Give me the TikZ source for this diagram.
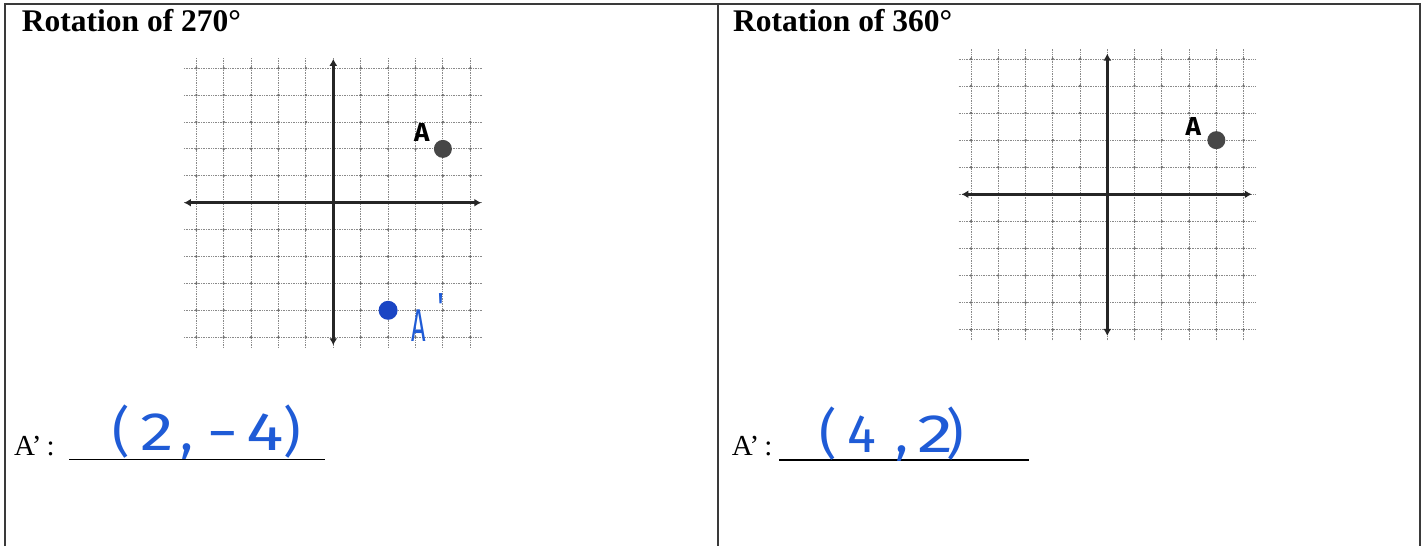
\documentclass[tikz,border=0pt]{standalone}
\usepackage{fontspec}
\setmainfont{Liberation Serif}
\newfontfamily\hand{Fira Sans}
\usetikzlibrary{arrows.meta}
\definecolor{framecol}{HTML}{3A3A3A}
\definecolor{axiscol}{HTML}{262626}
\definecolor{gridcol}{HTML}{8A8A8A}
\definecolor{griddotcol}{HTML}{6E6E6E}
\definecolor{dotcol}{HTML}{474747}
\definecolor{inkblue}{HTML}{1F5BD6}
\definecolor{dotblue}{HTML}{1A45C4}
\begin{document}
\begin{tikzpicture}[x=1pt,y=-1pt,
  frameline/.style={draw=framecol,line width=2pt},
  gridline/.style={draw=gridcol,line width=0.9pt,dash pattern=on 1pt off 0.7pt},
  griddot/.style={fill=griddotcol},
  axisline/.style={draw=axiscol,line width=3pt,{Latex[length=7pt,width=8pt]}-{Latex[length=7pt,width=8pt]}},
  pointA/.style={circle,fill=dotcol,inner sep=0pt,minimum size=18pt},
  pointB/.style={circle,fill=dotblue,inner sep=0pt,minimum size=19pt},
  title/.style={anchor=base west,inner sep=0pt,font=\bfseries\fontsize{31.5}{32}\selectfont},
  prompt/.style={anchor=base west,inner sep=0pt,font=\fontsize{29}{29}\selectfont},
  uline/.style={draw=black,line width=1.5pt},
  answer/.style={anchor=base west,inner sep=0pt,text=inkblue,font=\hand\fontsize{54}{54}\selectfont},
  ptlabel/.style={inner sep=0pt,font=\hand\bfseries\fontsize{26}{26}\selectfont},
  bluelabel/.style={inner sep=0pt,text=inkblue,font=\hand\fontsize{46}{46}\selectfont}]
\useasboundingbox (0,0) rectangle (1423,546);
\fill[white] (0,0) rectangle (1423,546);
% frame
\coordinate (tl) at (5,4);
\coordinate (tr) at (1420,4);
\coordinate (bl) at (5,546);
\coordinate (mt) at (717.5,4);
\coordinate (mb) at (717.5,546);
\coordinate (br) at (1420,546);
\draw[frameline] (bl) -- (tl) -- (tr) -- (br);
\draw[frameline] (mt) -- (mb);
% titles
\node[title] (t1) at (21.7,31.7) {Rotation of 270°};
\node[title] (t2) at (733,31.7) {Rotation of 360°};
% left grid
\begin{scope}[shift={(333.3pt,-202.7pt)},x=27.4pt,y=26.9pt]
  \foreach \i in {-5,...,5} {
    \draw[gridline] (\i,-5.4) -- (\i,5.4);
    \draw[gridline] (-5.45,\i) -- (5.45,\i);
  }
  \foreach \i in {-5,...,5} \foreach \j in {-5,...,5} \fill[griddot] (\i,\j) circle (1.4pt);
  \coordinate (lxa) at (-5.45,0);
  \coordinate (lxb) at (5.4,0);
  \coordinate (lya) at (0,5.35);
  \coordinate (lyb) at (0,-5.3);
  \draw[axisline] (lxa) -- (lxb);
  \draw[axisline] (lyb) -- (lya);
  \node[pointA] (A1) at (4,2) {};
  \node[pointB] (A1p) at (2,-4) {};
\end{scope}
\node[ptlabel] (A1lab) at (421.7,132.7) {A};
\node[bluelabel,anchor=base west] (A1plab) at (411,341.5) {\scalebox{0.55}[1]{A}\kern12pt\raisebox{21pt}{\scalebox{0.7}[0.85]{'}}};
% right grid
\begin{scope}[shift={(1107.3pt,-194.3pt)},x=27.26pt,y=27.07pt]
  \foreach \i in {-5,...,5} {
    \draw[gridline] (\i,-5.4) -- (\i,5.4);
    \draw[gridline] (-5.45,\i) -- (5.45,\i);
  }
  \foreach \i in {-5,...,5} \foreach \j in {-5,...,5} \fill[griddot] (\i,\j) circle (1.4pt);
  \coordinate (rxa) at (-5.35,0);
  \coordinate (rxb) at (5.3,0);
  \coordinate (rya) at (0,5.2);
  \coordinate (ryb) at (0,-5.23);
  \draw[axisline] (rxa) -- (rxb);
  \draw[axisline] (ryb) -- (rya);
  \node[pointA] (A2) at (4,2) {};
\end{scope}
\node[ptlabel] (A2lab) at (1193.3,126) {A};
% answers
\node[prompt] (p1) at (14,455) {A’\kern5pt:};
\coordinate (u1a) at (69,459.5);
\coordinate (u1b) at (325,459.5);
\draw[uline] (u1a) -- (u1b);
\node[answer] (ans1) at (112,450) {(\kern11pt\scalebox{1.25}[1]{2}\kern6pt,\kern13pt\scalebox{1.5}[1]{-}\kern8pt\scalebox{1.3}[1]{4}\kern-1pt)};
\node[prompt] (p2) at (731.7,455) {A’\kern5pt:};
\coordinate (u2a) at (779,460);
\coordinate (u2b) at (1029,460);
\draw[uline] (u2a) -- (u2b);
\node[answer] (ans2) at (819,452) {(\kern11pt4\kern19pt,\kern9pt\scalebox{1.35}[1]{2}\kern-7pt)};
\end{tikzpicture}
\end{document}
